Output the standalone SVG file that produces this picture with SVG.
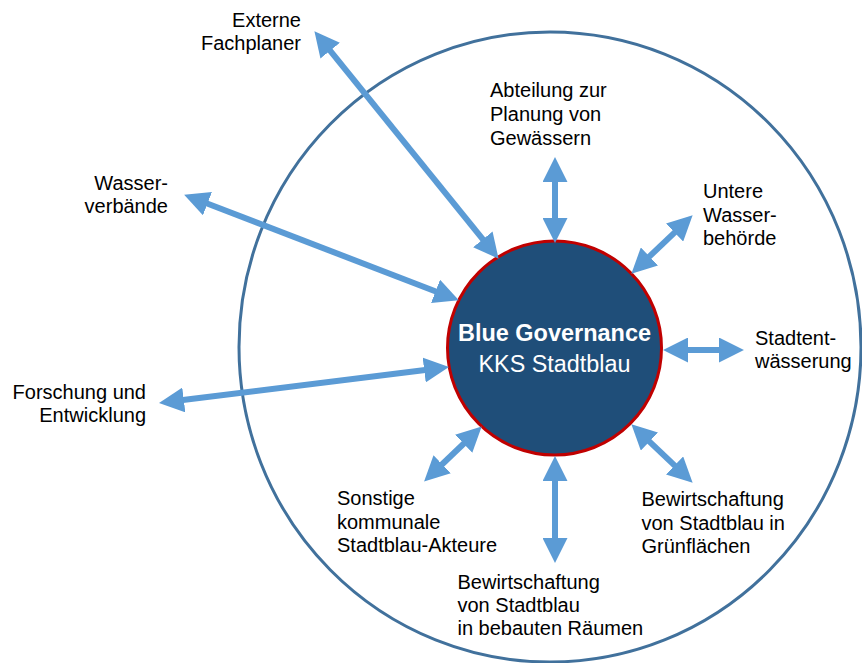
<svg xmlns="http://www.w3.org/2000/svg" width="862" height="663" viewBox="0 0 862 663">
<style>
.lbl{font-family:"Liberation Sans",Arial,sans-serif;font-size:20px;fill:#000}
.end{text-anchor:end}
.ctr{font-family:"Liberation Sans",Arial,sans-serif;font-size:23px;fill:#fff;text-anchor:middle}
.arr{stroke:#5b9bd5;stroke-width:6;fill:none;marker-start:url(#ah);marker-end:url(#ah)}
</style>
<defs>
<marker id="ah" markerUnits="userSpaceOnUse" markerWidth="25" markerHeight="25" viewBox="0 0 24 24" refX="1" refY="12" orient="auto-start-reverse">
<path d="M0,0 L24,12 L0,24 z" fill="#5b9bd5"/>
</marker>
</defs>
<rect width="862" height="663" fill="#fff"/>
<g id="outer-ring">
<ellipse cx="550" cy="347" rx="311" ry="315" fill="none" stroke="#41719c" stroke-width="3"/>
</g>
<g id="center">
<circle cx="554.5" cy="348" r="107" fill="#1f4e79" stroke="#c00000" stroke-width="3"/>
<text class="ctr" x="554.5" y="341" font-weight="bold" textLength="193" lengthAdjust="spacingAndGlyphs">Blue Governance</text>
<text class="ctr" x="554.5" y="372" textLength="152" lengthAdjust="spacingAndGlyphs">KKS Stadtblau</text>
</g>
<g id="connectors">
<line class="arr" x1="329.5" y1="49.9" x2="483.5" y2="240.1"/>
<line class="arr" x1="206.5" y1="203.3" x2="436.5" y2="291.7"/>
<line class="arr" x1="182.8" y1="400.1" x2="425.2" y2="369.9"/>
<line class="arr" x1="555" y1="181" x2="555" y2="219"/>
<line class="arr" x1="675.3" y1="231.8" x2="648.7" y2="257.2"/>
<line class="arr" x1="687" y1="350" x2="720" y2="350"/>
<line class="arr" x1="648.7" y1="440.8" x2="675.3" y2="466.2"/>
<line class="arr" x1="555" y1="480" x2="555" y2="539"/>
<line class="arr" x1="464.4" y1="443" x2="441.4" y2="465"/>
</g>
<g id="externe-fachplaner">
<text class="lbl end" x="301" y="27">Externe</text>
<text class="lbl end" x="301" y="50">Fachplaner</text>
</g>
<g id="wasserverbaende">
<text class="lbl end" x="168" y="190">Wasser-</text>
<text class="lbl end" x="168" y="213">verbände</text>
</g>
<g id="forschung">
<text class="lbl end" x="146" y="399">Forschung und</text>
<text class="lbl end" x="146" y="422">Entwicklung</text>
</g>
<g id="abteilung">
<text class="lbl" x="490" y="97">Abteilung zur</text>
<text class="lbl" x="490" y="121">Planung von</text>
<text class="lbl" x="490" y="145">Gewässern</text>
</g>
<g id="untere-wasserbehoerde">
<text class="lbl" x="703" y="198">Untere</text>
<text class="lbl" x="703" y="221.5">Wasser-</text>
<text class="lbl" x="703" y="245">behörde</text>
</g>
<g id="stadtentwaesserung">
<text class="lbl" x="755" y="345">Stadtent-</text>
<text class="lbl" x="755" y="368">wässerung</text>
</g>
<g id="gruenflaechen">
<text class="lbl" x="641.5" y="506">Bewirtschaftung</text>
<text class="lbl" x="641.5" y="529.5">von Stadtblau in</text>
<text class="lbl" x="641.5" y="553">Grünflächen</text>
</g>
<g id="bebaute-raeume">
<text class="lbl" x="457.5" y="589">Bewirtschaftung</text>
<text class="lbl" x="457.5" y="612">von Stadtblau</text>
<text class="lbl" x="457.5" y="635">in bebauten Räumen</text>
</g>
<g id="sonstige">
<text class="lbl" x="337" y="505">Sonstige</text>
<text class="lbl" x="337" y="529">kommunale</text>
<text class="lbl" x="337" y="552">Stadtblau-Akteure</text>
</g>
</svg>
